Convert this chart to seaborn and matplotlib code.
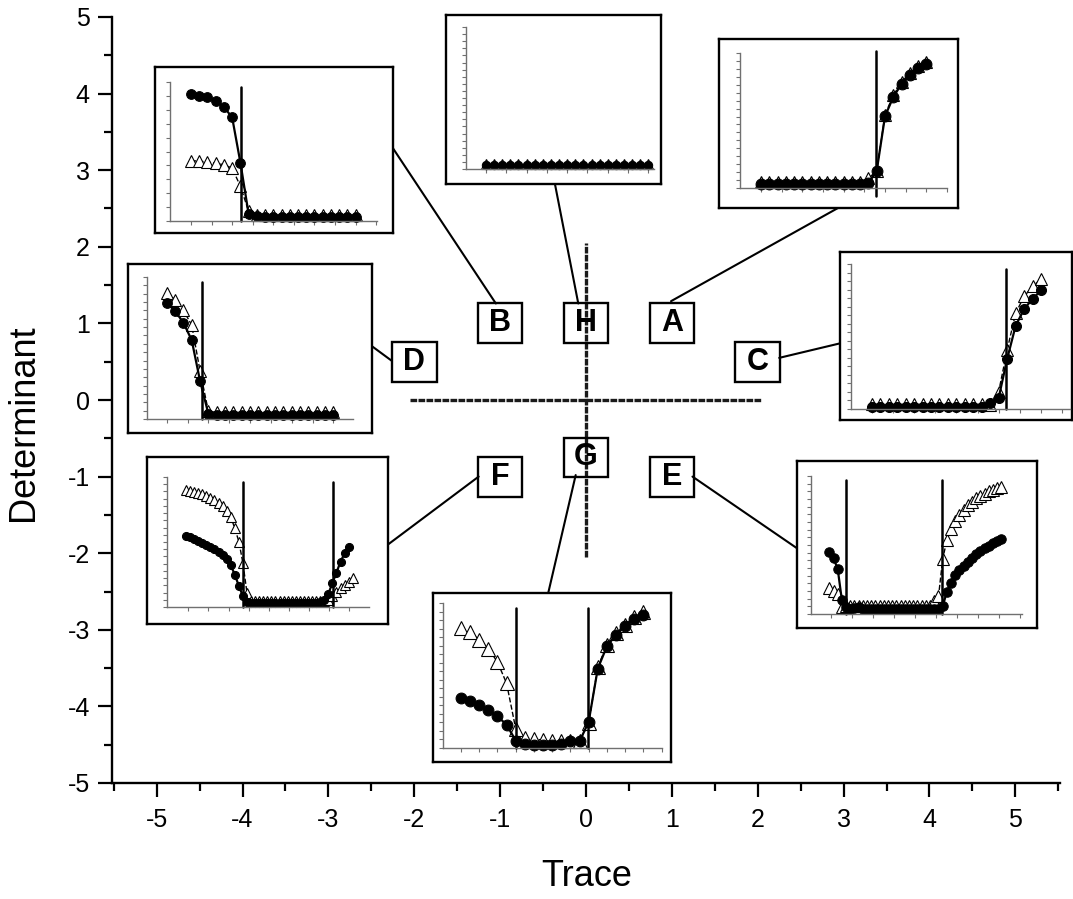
import numpy as np
import pandas as pd
import matplotlib
matplotlib.use("Agg")
import matplotlib.pyplot as plt
import seaborn as sns
from matplotlib.ticker import MultipleLocator
from matplotlib.patches import Rectangle

W, H = 1073, 899

# letter boxes on the trace-determinant plane
labels = ['A', 'B', 'C', 'D', 'E', 'F', 'G', 'H']
label_x = [1, -1, 2, -2, 1, -1, 0, 0]
label_y = [1, 1, 0.5, 0.5, -1, -1, -0.75, 1]

# connector lines, label end -> inset end
conn_x0 = [0.99, -1.05, 2.25, -2.26, 1.24, -1.25, -0.12, -0.09]
conn_y0 = [1.29, 1.26, 0.55, 0.51, -1.0, -1.0, -0.98, 1.26]
conn_x1 = [2.94, -2.25, 2.96, -2.49, 2.45, -2.31, -0.44, -0.36]
conn_y1 = [2.51, 3.29, 0.74, 0.70, -1.93, -1.89, -2.52, 2.81]

# inset series (y on a 0-10 scale, x = sample index)
A_circ = [0.32, 0.32, 0.32, 0.32, 0.32, 0.32, 0.32, 0.32, 0.32, 0.32, 0.32, 0.32, 0.32,
          0.35, 1.28, 5.31, 6.74, 7.7, 8.4, 8.89, 9.19]
A_tri = [0.42, 0.42, 0.42, 0.42, 0.42, 0.42, 0.42, 0.42, 0.42, 0.42, 0.42, 0.42, 0.42,
         0.75, 1.23, 5.43, 6.86, 7.83, 8.52, 9.01, 9.31]
B_circ = [9.15, 9.0, 8.9, 8.65, 8.2, 7.45, 4.2, 0.5, 0.35, 0.3, 0.3, 0.3, 0.3, 0.3,
          0.3, 0.3, 0.3, 0.3, 0.3, 0.3, 0.3]
B_tri = [4.35, 4.3, 4.25, 4.15, 4.05, 3.8, 2.5, 0.7, 0.4, 0.4, 0.4, 0.4, 0.4, 0.4,
         0.4, 0.4, 0.4, 0.4, 0.4, 0.4, 0.4]
C_circ = [0.15, 0.15, 0.15, 0.15, 0.15, 0.15, 0.15, 0.15, 0.15, 0.15, 0.15, 0.15, 0.15, 0.15,
          0.39, 0.78, 3.46, 5.74, 6.89, 7.6, 8.18]
C_tri = [0.32, 0.32, 0.32, 0.32, 0.32, 0.32, 0.32, 0.32, 0.32, 0.32, 0.32, 0.32, 0.32, 0.32,
         0.3, 1.2, 4.08, 6.61, 7.76, 8.46, 8.96]
D_circ = [8.18, 7.62, 6.78, 5.56, 2.69, 0.37, 0.3, 0.3, 0.3, 0.3, 0.3, 0.3, 0.3, 0.3,
          0.3, 0.3, 0.3, 0.3, 0.3, 0.3, 0.3]
D_tri = [8.9, 8.41, 7.66, 6.61, 3.39, 0.54, 0.47, 0.47, 0.47, 0.47, 0.47, 0.47, 0.47, 0.47,
         0.47, 0.47, 0.47, 0.47, 0.47, 0.47, 0.47]
E_circ = [4.52, 4.04, 3.27, 0.99, 0.48, 0.38, 0.43, 0.53,
          0.38, 0.38, 0.38, 0.38, 0.38, 0.38, 0.38, 0.38, 0.38, 0.38, 0.38, 0.38, 0.38,
          0.38, 0.38, 0.38, 0.38, 0.38, 0.38,
          0.55, 1.63, 2.28, 2.79, 3.2, 3.51, 3.8, 4.09, 4.33, 4.57, 4.76, 4.95, 5.12, 5.29, 5.43]
E_tri = [1.92, 1.68, 1.44, 0.48,
         0.55, 0.55, 0.55, 0.55, 0.55, 0.55, 0.55, 0.55, 0.55, 0.55, 0.55, 0.55, 0.55, 0.55,
         0.55, 0.55, 0.55, 0.55, 0.55, 0.55, 0.55,
         0.91, 1.27, 3.99, 5.36, 6.15, 6.73, 7.16, 7.52, 7.88, 8.13, 8.37, 8.56, 8.73, 8.89,
         9.01, 9.13, 9.21]
F_circ = [5.46, 5.36, 5.23, 5.10, 4.95, 4.80, 4.62, 4.44, 4.23, 3.98, 3.67, 3.24, 2.47, 1.63,
          0.82, 0.36,
          0.31, 0.31, 0.31, 0.31, 0.31, 0.31, 0.31, 0.31, 0.31, 0.31, 0.31, 0.31, 0.31, 0.31,
          0.31, 0.31, 0.34, 0.4,
          0.56, 1.02, 1.84, 2.65, 3.49, 4.13, 4.64]
F_tri = [9.03, 8.95, 8.88, 8.78, 8.67, 8.55, 8.39, 8.21, 8.01, 7.76, 7.4, 6.94, 6.05, 5.03,
         3.37, 1.07,
         0.48, 0.48, 0.48, 0.48, 0.48, 0.48, 0.48, 0.48, 0.48, 0.48, 0.48, 0.48, 0.48, 0.48,
         0.48, 0.48, 0.48, 0.48, 0.48, 0.51,
         0.82, 1.12, 1.45, 1.71, 1.96, 2.22]
G_circ = [3.45, 3.22, 2.94, 2.6, 2.18, 1.61, 0.51, 0.28, 0.23, 0.23, 0.23, 0.28, 0.46, 0.46,
          1.79, 5.47, 7.01, 7.82, 8.39, 8.9, 9.2]
G_tri = [8.28, 7.98, 7.47, 6.85, 5.93, 4.46, 1.33, 0.69, 0.64, 0.53, 0.46, 0.46, 0.46, 0.46,
         1.72, 5.56, 7.13, 7.93, 8.51, 9.01, 9.38]
H_circ = [0.3, 0.3, 0.3, 0.3, 0.3, 0.3, 0.3, 0.3, 0.3, 0.3, 0.3, 0.3, 0.3, 0.3,
          0.3, 0.3, 0.3, 0.3, 0.3, 0.3, 0.3]
H_tri = [0.35, 0.35, 0.35, 0.35, 0.35, 0.35, 0.35, 0.35, 0.35, 0.35, 0.35, 0.35, 0.35, 0.35,
         0.35, 0.35, 0.35, 0.35, 0.35, 0.35, 0.35]

# vertical marker lines in each inset (sample index) and their extent
vlines = {'A': [13.95], 'B': [6.05], 'C': [15.87], 'D': [4.2],
          'E': [3.89, 26.9], 'F': [14.1, 36.07], 'G': [6.03, 13.97], 'H': []}
vline_top = {'A': 10.17, 'B': 9.65, 'C': 9.68, 'D': 9.65, 'E': 9.69, 'F': 9.62, 'G': 9.66, 'H': 0}
vline_bot = {'A': -0.57, 'B': 0, 'C': 0, 'D': 0, 'E': 0, 'F': 0, 'G': 0, 'H': 0}

series = {'A': (A_circ, A_tri), 'B': (B_circ, B_tri), 'C': (C_circ, C_tri),
          'D': (D_circ, D_tri), 'E': (E_circ, E_tri), 'F': (F_circ, F_tri),
          'G': (G_circ, G_tri), 'H': (H_circ, H_tri)}

# layout in pixels: frame box, inner axes, first sample px, sample spacing px
layout = {
    'B': dict(frame=(155, 67, 393, 233), inner=(170, 82, 377, 221), p0=191, s=8.233,
              xt=(0, 2.5), ystep=1.0, ms=(7.0, 8.4)),
    'H': dict(frame=(446, 15, 661, 184), inner=(466, 27, 654, 169), p0=486, s=8.117,
              xt=(0, 2.5), ystep=0.5, ms=(6.0, 6.6)),
    'A': dict(frame=(719, 39, 958, 208), inner=(740, 53, 947, 188), p0=761, s=8.267,
              xt=(0, 2.5), ystep=10 / 17, ms=(7.8, 9.0)),
    'D': dict(frame=(128, 264, 372, 433), inner=(147, 277, 353, 419), p0=166.7, s=8.333,
              xt=(0, 2.5), ystep=10 / 17, ms=(7.0, 8.6)),
    'C': dict(frame=(840, 252, 1072, 420), inner=(851, 264, 1070, 409), p0=871.7, s=8.467,
              xt=(0, 2.5), ystep=10 / 17, ms=(7.2, 8.6)),
    'F': dict(frame=(147, 457, 388, 624), inner=(167, 477, 369, 607), p0=186, s=4.067,
              xt=(0.57, 4.94), ystep=10 / 18, ms=(5.8, 7.8)),
    'E': dict(frame=(797, 461, 1037, 628), inner=(811, 476, 1022, 614), p0=829.3, s=4.2,
              xt=(0.4, 5.0), ystep=10 / 18, ms=(6.8, 8.3)),
    'G': dict(frame=(433, 593, 671, 762), inner=(443, 603, 662, 748), p0=461, s=9.117,
              xt=(0, 2.0), ystep=10 / 17, ms=(7.8, 9.6)),
}


def fig_rect(l, t, r, b):
    return [l / W, 1 - b / H, (r - l) / W, (b - t) / H]


sns.set_style('ticks')
plt.rcParams['font.family'] = ['Liberation Sans', 'DejaVu Sans']
plt.rcParams['axes.unicode_minus'] = False
plt.rcParams['text.color'] = 'black'
plt.rcParams['axes.labelcolor'] = 'black'

fig = plt.figure(figsize=(W / 100, H / 100), dpi=100)
ax = fig.add_axes(fig_rect(112, 17, 1060, 783))
ax.set_xlim(-5.52, 5.52)
ax.set_ylim(-5, 5)
for sp in ['top', 'right']:
    ax.spines[sp].set_visible(False)
for sp in ['left', 'bottom']:
    ax.spines[sp].set_linewidth(1.7)
    ax.spines[sp].set_color('k')
ax.xaxis.set_major_locator(MultipleLocator(1))
ax.xaxis.set_minor_locator(MultipleLocator(0.5))
ax.yaxis.set_major_locator(MultipleLocator(1))
ax.yaxis.set_minor_locator(MultipleLocator(0.5))
ax.tick_params(which='major', direction='out', length=10, width=1.6, labelsize=18,
               color='k', labelcolor='k')
ax.tick_params(axis='x', which='major', pad=8)
ax.tick_params(axis='y', which='major', pad=6)
ax.tick_params(which='minor', direction='out', length=6, width=1.6, color='k')

# center cross
ax.plot([-2.05, 2.05], [0, 0], color='#1a1a1a', lw=2.4, ls=(0, (2.0, 0.4)))
ax.plot([0, 0], [-2.05, 2.05], color='#1a1a1a', lw=2.4, ls=(0, (2.0, 0.4)))

for lab, x, y in zip(labels, label_x, label_y):
    ax.add_patch(Rectangle((x - 0.26, y - 0.26), 0.52, 0.52, fill=False,
                           ec='k', lw=1.7, zorder=4))
    ax.text(x, y, lab, ha='center', va='center', fontsize=22, fontweight='bold',
            color='k', zorder=5)

for x0, y0, x1, y1 in zip(conn_x0, conn_y0, conn_x1, conn_y1):
    ax.plot([x0, x1], [y0, y1], color='k', lw=1.5, clip_on=False)

fig.text(24 / W, 1 - 423 / H, 'Determinant', rotation=90, ha='center', va='center',
         fontsize=26, color='k')
fig.text(587 / W, 1 - 877 / H, 'Trace', ha='center', va='center', fontsize=26, color='k')

# insets
for name, lay in layout.items():
    fax = fig.add_axes(fig_rect(*lay['frame']), zorder=2)
    fax.set_facecolor('white')
    fax.set_xticks([])
    fax.set_yticks([])
    for sp in fax.spines.values():
        sp.set_visible(True)
        sp.set_color('k')
        sp.set_linewidth(1.7)

    l, t, r, b = lay['inner']
    iax = fig.add_axes(fig_rect(l, t, r, b), zorder=3)
    iax.patch.set_alpha(0)
    iax.set_xlim((l - lay['p0']) / lay['s'], (r - lay['p0']) / lay['s'])
    iax.set_ylim(0, 10)
    t0, tstep = lay['xt']
    iax.set_xticks(np.arange(t0, iax.get_xlim()[1] + 0.01, tstep))
    iax.set_yticks(np.arange(0, 10.01, lay['ystep']))
    iax.tick_params(direction='out', length=3, width=0.8, color='#707070',
                    labelleft=False, labelbottom=False)
    for sp in ['top', 'right']:
        iax.spines[sp].set_visible(False)
    for sp in ['left', 'bottom']:
        iax.spines[sp].set_color('#707070')
        iax.spines[sp].set_linewidth(1.0)

    circ, tri = series[name]
    df_t = pd.DataFrame({'x': np.arange(len(tri)), 'y': tri})
    df_c = pd.DataFrame({'x': np.arange(len(circ)), 'y': circ})
    ms_c, ms_t = lay['ms']
    sns.lineplot(data=df_t, x='x', y='y', ax=iax, color='k', lw=1.0, ls='--',
                 marker='^', markersize=ms_t, markerfacecolor='white',
                 markeredgecolor='k', markeredgewidth=0.8, errorbar=None, clip_on=False)
    sns.lineplot(data=df_c, x='x', y='y', ax=iax, color='k', lw=1.6,
                 marker='o', markersize=ms_c, markeredgecolor='k',
                 errorbar=None, clip_on=False)
    for xv in vlines[name]:
        iax.plot([xv, xv], [vline_bot[name], vline_top[name]], color='k', lw=1.8,
                 clip_on=False)
    iax.set_xlabel('')
    iax.set_ylabel('')

fig.savefig('out.png', dpi=100)
